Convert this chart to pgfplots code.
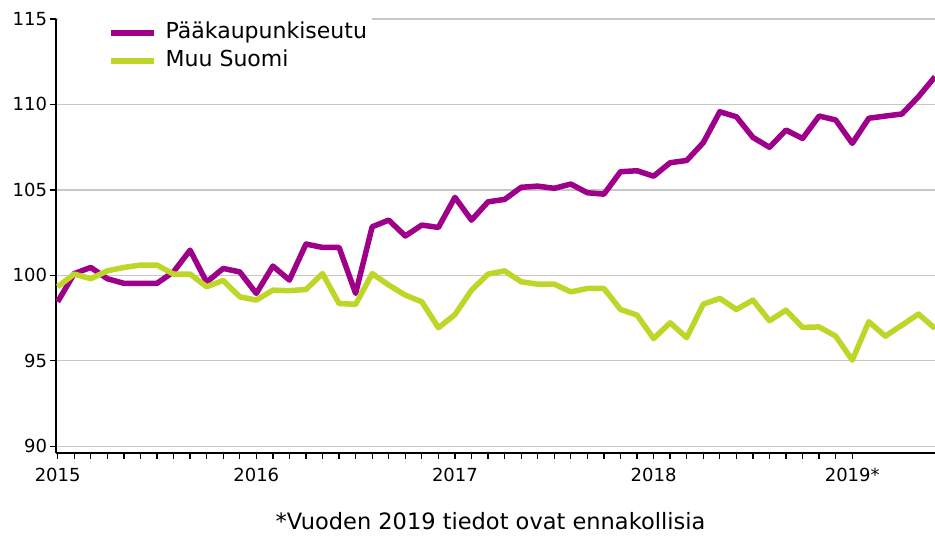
\documentclass[border=0pt]{standalone}
\usepackage{fontspec}
\setmainfont{DejaVu Sans}
\usepackage{pgfplots}
\pgfplotsset{compat=1.18}
\definecolor{pk}{RGB}{158,0,138}
\definecolor{ms}{RGB}{190,214,40}
\pgfplotstableread{
i P G
0 98.45 99.33
1 100.1 100.07
2 100.46 99.8
3 99.8 100.26
4 99.53 100.46
5 99.53 100.6
6 99.53 100.6
7 100.2 100.07
8 101.47 100.07
9 99.6 99.33
10 100.4 99.7
11 100.2 98.74
12 98.94 98.55
13 100.54 99.13
14 99.72 99.1
15 101.83 99.17
16 101.63 100.1
17 101.63 98.35
18 98.94 98.3
19 102.84 100.1
20 103.23 99.43
21 102.3 98.84
22 102.94 98.45
23 102.8 96.93
24 104.56 97.7
25 103.23 99.13
26 104.3 100.07
27 104.44 100.26
28 105.15 99.62
29 105.22 99.48
30 105.09 99.48
31 105.34 99.03
32 104.83 99.23
33 104.75 99.23
34 106.06 98.0
35 106.12 97.67
36 105.8 96.3
37 106.59 97.22
38 106.72 96.35
39 107.76 98.31
40 109.57 98.65
41 109.28 98.0
42 108.07 98.55
43 107.49 97.34
44 108.5 97.96
45 108.01 96.95
46 109.32 96.98
47 109.09 96.44
48 107.72 95.04
49 109.19 97.28
50 109.32 96.44
51 109.44 97.08
52 110.45 97.73
53 111.62 96.89
}\datatable
\begin{document}
\begin{tikzpicture}
\begin{axis}[
  name=ax,
  scale only axis,
  width=879bp, height=434bp,
  xmin=-0.1, xmax=53, ymin=89.6, ymax=115,
  axis x line*=bottom, axis y line*=left,
  axis line style={line width=1.3bp, black},
  ytick={90,95,...,115},
  ymajorgrids,
  grid style={line width=1.3bp, color=black!22},
  xtick={0,12,24,36,48},
  xticklabels={2015,2016,2017,2018,2019*},
  minor x tick num=11,
  tick align=outside,
  major tick length=5.5bp, minor tick length=5.5bp,
  tick style={line width=1.3bp, black},
  /pgf/number format/assume math mode=true,
  ticklabel style={font=\fontsize{18bp}{20bp}\selectfont},
  xticklabel style={yshift=-6bp},
  legend style={at={(axis description cs:0,1)}, anchor=north west,
    xshift=2bp, yshift=1.5bp, draw=none, fill=white, inner sep=5bp,
    font=\fontsize{22bp}{26bp}\selectfont, row sep=7bp,
    nodes={inner sep=0pt, text height=16bp, text depth=5bp}},
  legend cell align=left,
  legend image code/.code={\path (-45bp,-1bp) (52bp,1bp); \draw[#1] (0bp,0bp) -- (43bp,0bp);},
]
\addplot[color=pk, line width=5.5bp, line join=round] table[x=i, y=P] {\datatable};
\addlegendentry{Pääkaupunkiseutu}
\addplot[color=ms, line width=5.5bp, line join=round] table[x=i, y=G] {\datatable};
\addlegendentry{Muu Suomi}
\end{axis}
\node[font=\fontsize{22.5bp}{26bp}\selectfont] at ([xshift=-5bp, yshift=-68bp]ax.south) {*Vuoden 2019 tiedot ovat ennakollisia};
\pgfresetboundingbox
\path[use as bounding box] ([xshift=-56bp,yshift=-83bp]ax.south west) rectangle ([yshift=19bp]ax.north east);
\end{tikzpicture}
\end{document}
